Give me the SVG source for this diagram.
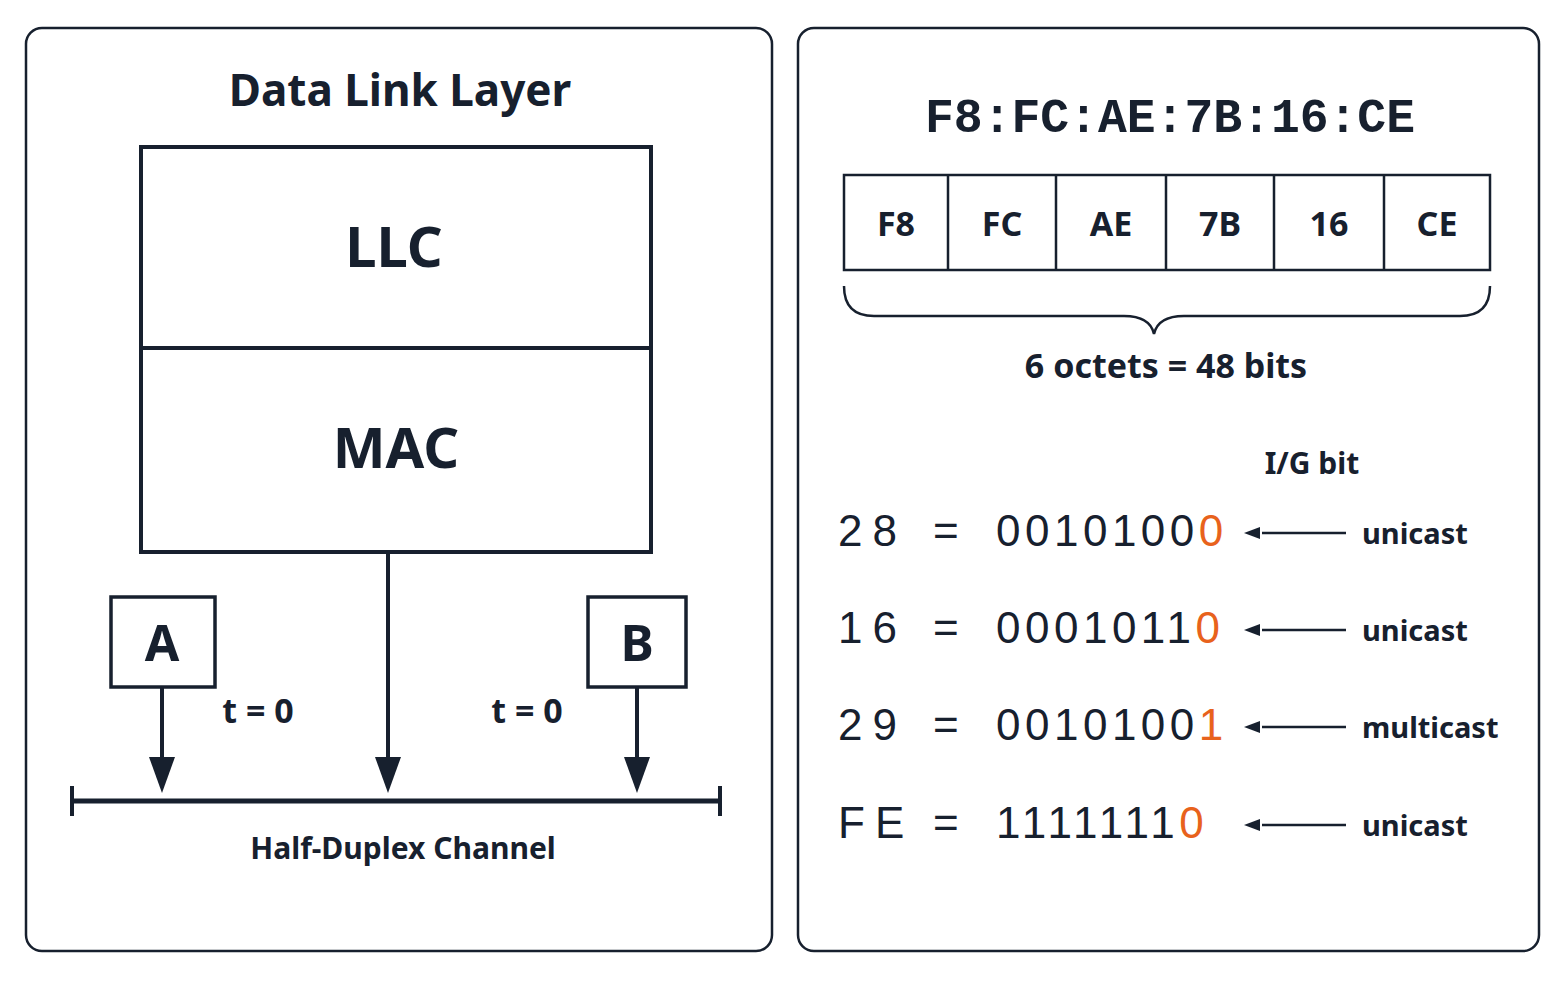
<svg xmlns="http://www.w3.org/2000/svg" width="1563" height="1006" viewBox="0 0 1563 1006">
<style>
.s{font-family:"Noto Sans","DejaVu Sans",sans-serif;fill:#17202e;font-weight:bold}
.m{font-family:"Liberation Mono","DejaVu Sans Mono",monospace;fill:#17202e}
.d{font-family:"Liberation Sans","Noto Sans",sans-serif;fill:#17202e}
.o{fill:#e8621c}
.ln{stroke:#17202e;fill:none}
.ah{fill:#17202e}
</style>
<rect width="1563" height="1006" fill="#fff"/>
<g id="panel-left">
<rect x="26" y="28" width="746" height="923" rx="16" class="ln" stroke-width="2.5"/>
<text x="400" y="106" text-anchor="middle" class="s" font-size="44" font-weight="600">Data Link Layer</text>
</g>
<g id="llc"><rect x="141" y="147" width="510" height="201" class="ln" stroke-width="4"/>
<text x="394" y="267" text-anchor="middle" class="s" font-size="56">LLC</text></g>
<g id="mac"><rect x="141" y="348" width="510" height="204" class="ln" stroke-width="4"/>
<text x="396" y="468" text-anchor="middle" class="s" font-size="56">MAC</text></g>
<g id="a"><rect x="111" y="597" width="104" height="90" class="ln" stroke-width="3.5"/>
<text x="162" y="661" text-anchor="middle" class="s" font-size="50">A</text></g>
<g id="b"><rect x="588" y="597" width="98" height="90" class="ln" stroke-width="3.5"/>
<text x="637" y="661" text-anchor="middle" class="s" font-size="50">B</text></g>
<g id="channel">
<line x1="72" y1="801" x2="720" y2="801" class="ln" stroke-width="5"/>
<line x1="72" y1="786" x2="72" y2="816" class="ln" stroke-width="4"/>
<line x1="720" y1="786" x2="720" y2="816" class="ln" stroke-width="4"/>
<text x="403" y="859" text-anchor="middle" class="s" font-size="30" font-weight="600">Half-Duplex Channel</text>
</g>
<g id="connectors">
<path d="M162,687 V762" class="ln" stroke-width="4"/><path d="M149,757 L175,757 L162,793Z" class="ah"/>
<path d="M388,552 V762" class="ln" stroke-width="4"/><path d="M375,757 L401,757 L388,793Z" class="ah"/>
<path d="M637,687 V762" class="ln" stroke-width="4"/><path d="M624,757 L650,757 L637,793Z" class="ah"/>
<path d="M1346,533 H1262" class="ln" stroke-width="2.5"/><path d="M1244,533 L1260,527 L1260,539Z" class="ah"/>
<path d="M1346,630 H1262" class="ln" stroke-width="2.5"/><path d="M1244,630 L1260,624 L1260,636Z" class="ah"/>
<path d="M1346,727 H1262" class="ln" stroke-width="2.5"/><path d="M1244,727 L1260,721 L1260,733Z" class="ah"/>
<path d="M1346,825 H1262" class="ln" stroke-width="2.5"/><path d="M1244,825 L1260,819 L1260,831Z" class="ah"/>
</g>
<text x="258" y="723" text-anchor="middle" class="s" font-size="34" font-weight="600">t = 0</text>
<text x="527" y="723" text-anchor="middle" class="s" font-size="34" font-weight="600">t = 0</text>
<g id="panel-right">
<rect x="798" y="28" width="741" height="923" rx="16" class="ln" stroke-width="2.5"/>
<text x="925" y="132" class="m" font-size="48" font-weight="bold" textLength="490" lengthAdjust="spacingAndGlyphs">F8:FC:AE:7B:16:CE</text>
</g>
<g id="octets">
<rect x="844" y="175" width="646" height="95" class="ln" stroke-width="2.5"/>
<path d="M948,175V270M1056,175V270M1166,175V270M1274,175V270M1384,175V270" class="ln" stroke-width="2.5"/>
<g class="s" font-size="34" font-weight="600" text-anchor="middle">
<text x="896" y="236">F8</text><text x="1002" y="236">FC</text><text x="1111" y="236">AE</text><text x="1220" y="236">7B</text><text x="1329" y="236">16</text><text x="1437" y="236">CE</text></g>
<path d="M844,286 Q844,316 874,316 L1124,316 Q1150,316 1154,334 Q1158,316 1184,316 L1460,316 Q1490,316 1490,286" class="ln" stroke-width="2.5"/>
<text x="1166" y="378" text-anchor="middle" class="s" font-size="34" font-weight="600">6 octets = 48 bits</text>
</g>
<text x="1312" y="474" text-anchor="middle" class="s" font-size="30" font-weight="600">I/G bit</text>
<g id="rows" font-size="44">
<text x="838" y="546" class="d" letter-spacing="10">28</text><text x="933" y="546" class="d">=</text>
<text x="996" y="546" class="d" letter-spacing="4.5">0010100<tspan class="o">0</tspan></text>
<text x="838" y="643" class="d" letter-spacing="10">16</text><text x="933" y="643" class="d">=</text>
<text x="996" y="643" class="d" letter-spacing="4.5">0001011<tspan class="o">0</tspan></text>
<text x="838" y="740" class="d" letter-spacing="10">29</text><text x="933" y="740" class="d">=</text>
<text x="996" y="740" class="d" letter-spacing="4.5">0010100<tspan class="o">1</tspan></text>
<text x="838" y="838" class="d" letter-spacing="10">FE</text><text x="933" y="838" class="d">=</text>
<text x="996" y="838" class="d" letter-spacing="4.5">1111111<tspan class="o">0</tspan></text>
</g>
<g class="s" font-size="29" font-weight="600">
<text x="1362" y="544">unicast</text><text x="1362" y="641">unicast</text><text x="1362" y="738">multicast</text><text x="1362" y="836">unicast</text>
</g>
</svg>
